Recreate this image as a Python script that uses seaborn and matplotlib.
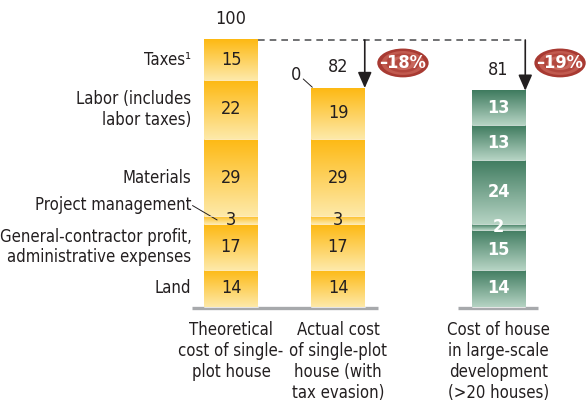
import numpy as np
import matplotlib
matplotlib.use("Agg")
import matplotlib.pyplot as plt
import matplotlib.colors as mcolors
from matplotlib.patches import Ellipse
import seaborn as sns

# components, bottom to top
components = ["Land", "General-contractor profit,\nadministrative expenses",
              "Project management", "Materials", "Labor (includes\nlabor taxes)", "Taxes\u00b9"]
categories = ["Theoretical\ncost of single-\nplot house",
              "Actual cost\nof single-plot\nhouse (with\ntax evasion)",
              "Cost of house\nin large-scale\ndevelopment\n(>20 houses)"]
theoretical = [14, 17, 3, 29, 22, 15]
actual = [14, 17, 3, 29, 19, 0]
large_scale = [14, 15, 2, 24, 13, 13]
totals = [100, 82, 81]
savings = ["\u201318%", "\u201319%"]

series = [theoretical, actual, large_scale]
xpos = [0, 1, 2.5]
width = 0.5

sns.set_theme(style="white")
plt.rcParams["font.family"] = ["DejaVu Sans"]
plt.rcParams["font.stretch"] = "condensed"
txt = "#231f20"

fig = plt.figure(figsize=(5.87, 4.04), dpi=100)
ax = fig.add_axes([0, 0, 1, 1])
ax.set_xlim(-2.159, 3.327)
ax.set_ylim(-36.33, 114.98)
ax.axis("off")

yellow = mcolors.LinearSegmentedColormap.from_list("y", ["#fee9a8", "#fdb913"])
green = mcolors.LinearSegmentedColormap.from_list("g", ["#b5d3c3", "#3f7b5f"])
grad = np.linspace(0, 1, 64).reshape(-1, 1)

for i, (x, vals) in enumerate(zip(xpos, series)):
    cmap = green if i == 2 else yellow
    bottom = 0
    for v in vals:
        if v > 0:
            bars = ax.bar(x, v, width=width, bottom=bottom, color="none",
                          edgecolor="none", zorder=2)
            r = bars[0]
            ax.imshow(grad, cmap=cmap, aspect="auto", origin="lower",
                      extent=[r.get_x(), r.get_x() + r.get_width(), bottom, bottom + v],
                      zorder=2, interpolation="bilinear")
            ax.plot([r.get_x(), r.get_x() + r.get_width()], [bottom, bottom],
                    color="white", lw=0.5, zorder=3)
            ax.text(x, bottom + v / 2, str(v), ha="center", va="center",
                    fontsize=13, zorder=4,
                    color="white" if i == 2 else txt,
                    fontweight="bold" if i == 2 else "normal")
        bottom += v

# baselines
ax.plot([-0.364, 1.374], [-0.3, -0.3], color="#a7a9ac", lw=2.4, zorder=1, solid_capstyle="butt")
ax.plot([2.12, 2.87], [-0.3, -0.3], color="#a7a9ac", lw=2.4, zorder=1, solid_capstyle="butt")

# component labels
cum = np.cumsum([0] + theoretical)
for k, name in enumerate(components):
    ymid = cum[k] + theoretical[k] / 2
    if k == 2:
        ax.text(-0.37, 38.2, name, ha="right", va="center", fontsize=12, color=txt)
        ax.plot([-0.36, -0.13], [38.0, 32.6], color=txt, lw=0.7)
    else:
        ax.text(-0.37, ymid, name, ha="right", va="center", fontsize=12,
                color=txt, linespacing=1.2)

# category labels
for x, c in zip(xpos, categories):
    ax.text(x, -5.3, c, ha="center", va="top", fontsize=12, color=txt, linespacing=1.2)

# totals
ax.text(xpos[0], 107.8, str(totals[0]), ha="center", va="center", fontsize=13, color=txt)
ax.text(xpos[1], 89.9, str(totals[1]), ha="center", va="center", fontsize=13, color=txt)
ax.text(xpos[2], 88.8, str(totals[2]), ha="center", va="center", fontsize=13, color=txt)
ax.text(0.607, 87.0, str(actual[-1]), ha="center", va="center", fontsize=13, color=txt)
ax.plot([0.675, 0.76], [85.4, 82.3], color=txt, lw=0.7)

# dashed reference line and arrows
ax.plot([0.25, 2.75], [100, 100], color="#58595b", lw=1.2, ls=(0, (4, 3)), zorder=1)
for xa, tot in [(1.25, totals[1]), (2.75, totals[2])]:
    ax.annotate("", xy=(xa, tot), xytext=(xa, 100),
                arrowprops=dict(arrowstyle="-|>,head_width=0.35,head_length=0.8",
                                color="#231f20", lw=1.2, shrinkA=0, shrinkB=0))

# savings badges
for xc, lab in zip([1.607, 3.075], savings):
    shades = ["#a83a32", "#c15a4f", "#b2463d", "#c8675c", "#b34a40"]
    for j, s in enumerate(shades):
        f = 1 - j * 0.17
        ax.add_patch(Ellipse((xc, 91.4), 0.48 * f, 10.8 * f, facecolor=s,
                             edgecolor="none", zorder=5))
    ax.text(xc, 91.4, lab, ha="center", va="center", fontsize=13,
            color="white", fontweight="bold", zorder=6)

fig.savefig("out.png", dpi=100)
